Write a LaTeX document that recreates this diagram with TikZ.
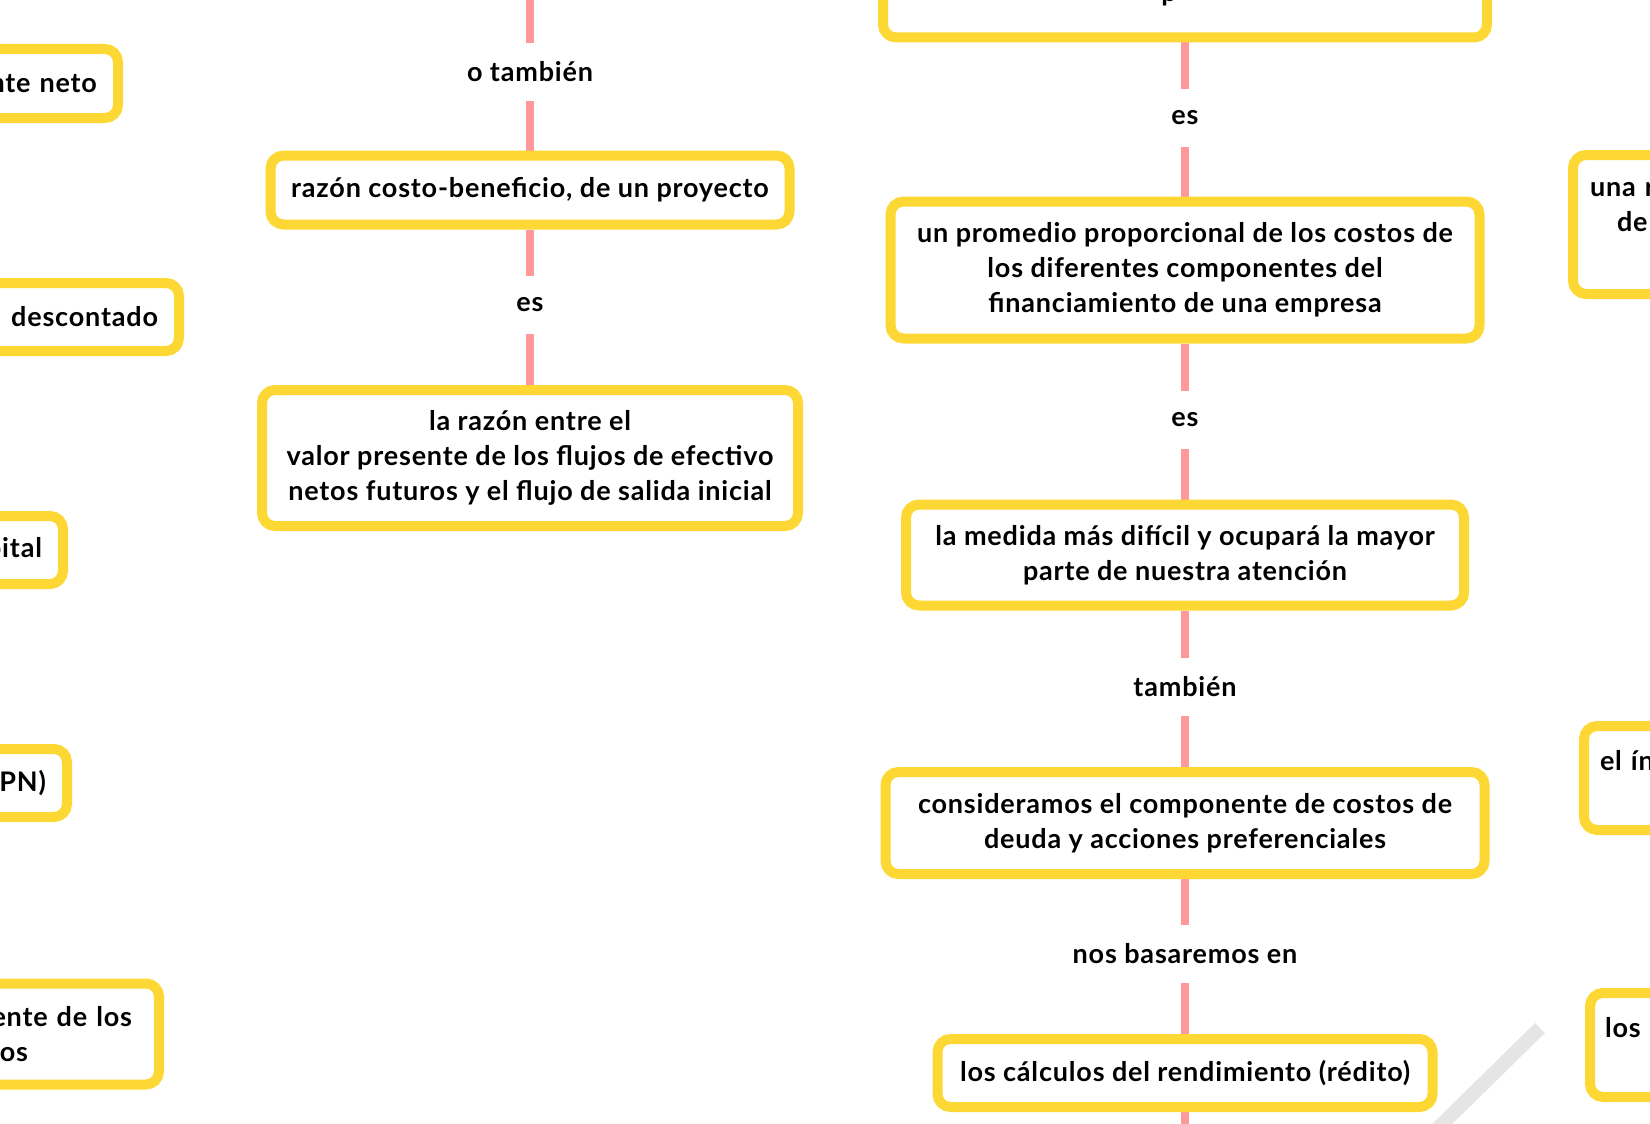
\documentclass[tikz,border=0pt]{standalone}
\usepackage{fontspec}
\setmainfont{Lato}[LetterSpace=3]
\usetikzlibrary{positioning,backgrounds}
\definecolor{boxyellow}{RGB}{253,216,53}
\definecolor{linkpink}{RGB}{255,153,153}
\definecolor{bandgray}{RGB}{229,229,229}

\begin{document}
\begin{tikzpicture}[x=1pt,y=-1pt,
  font=\bfseries\fontsize{27}{35}\selectfont,
  concept/.style={draw=boxyellow,line width=10pt,fill=white,rounded corners=13pt,align=center,inner sep=0pt},
  linkword/.style={minimum height=58pt,inner sep=0pt},
  link/.style={draw=linkpink,line width=8pt}]
\useasboundingbox (0,0) rectangle (1650,1124);
\clip (0,0) rectangle (1650,1124);
%left column
\coordinate (topL) at (530,0);
\node[linkword] (otam) at (530,72) {o también};
\node[concept,minimum width=519pt,minimum height=69pt] (razon) at (530,190) {razón costo-beneficio, de un proyecto};
\node[linkword] (esL) at (530,305) {es};
\node[concept,minimum width=536pt,minimum height=136pt] (valor) at (530,458) {la razón entre el\\valor presente de los flujos de efectivo\\netos futuros y el flujo de salida inicial};
%right column
\node[concept,minimum width=604pt,minimum height=137pt] (costo) at (1185,-31) {};
\node[anchor=base,inner sep=0pt] (costoword) at (1169,2) {p};
\node[linkword] (esA) at (1185,118) {es};
\node[concept,minimum width=589pt,minimum height=137pt] (promedio) at (1185,270) {un promedio proporcional de los costos de\\los diferentes componentes del\\financiamiento de una empresa};
\node[linkword] (esB) at (1185,420) {es};
\node[concept,minimum width=558pt,minimum height=101pt] (medida) at (1185,555) {la medida más difícil y ocupará la mayor\\parte de nuestra atención};
\node[linkword] (tambien) at (1185,687) {también};
\node[concept,minimum width=599pt,minimum height=102pt] (deuda) at (1185,823) {consideramos el componente de costos de\\deuda y acciones preferenciales};
\node[linkword] (nos) at (1185,954) {nos basaremos en};
\node[concept,minimum width=495pt,minimum height=68pt] (calculos) at (1185,1073) {los cálculos del rendimiento (rédito)};
\coordinate (botR) at (1185,1124);
%boxes cut by the left edge
\node[concept,anchor=east,text width=300pt,align=right,inner xsep=21pt,minimum height=69pt] (neto) at (123,83.5) {nte neto};
\node[concept,anchor=east,text width=300pt,align=right,inner xsep=21pt,minimum height=68pt] (descontado) at (184,317) {descontado};
\node[concept,anchor=east,text width=300pt,align=right,inner xsep=21pt,minimum height=68pt] (capital) at (68,550) {pital};
\node[concept,anchor=east,text width=300pt,align=right,inner xsep=21pt,minimum height=68pt] (vpn) at (72,783) {PN)};
\node[concept,anchor=east,text width=300pt,align=right,inner xsep=27pt,minimum height=101pt] (presente) at (164,1034) {ente de los\\os\rule{104pt}{0pt}};
%boxes cut by the right edge
\node[concept,anchor=west,text width=300pt,align=left,inner xsep=17pt,minimum height=139pt] (unar) at (1568,224.5) {una r\\\hspace*{27pt}de\\\mbox{}};
\node[concept,anchor=west,text width=300pt,align=left,inner xsep=16pt,minimum height=104pt] (indice) at (1579,778) {el ín\\\mbox{}};
\node[concept,anchor=west,text width=300pt,align=left,inner xsep=15pt,minimum height=104pt] (losr) at (1585,1045) {los\\\mbox{}};
\begin{scope}[on background layer]
\draw[bandgray,line width=14pt] (1540,1028) -- (1436,1130);
\draw[link] (topL) -- (otam) (otam) -- (razon) (razon) -- (esL) (esL) -- (valor);
\draw[link] (costo) -- (esA) (esA) -- (promedio) (promedio) -- (esB) (esB) -- (medida);
\draw[link] (medida) -- (tambien) (tambien) -- (deuda) (deuda) -- (nos) (nos) -- (calculos) (calculos) -- (botR);
\end{scope}
\end{tikzpicture}
\end{document}
